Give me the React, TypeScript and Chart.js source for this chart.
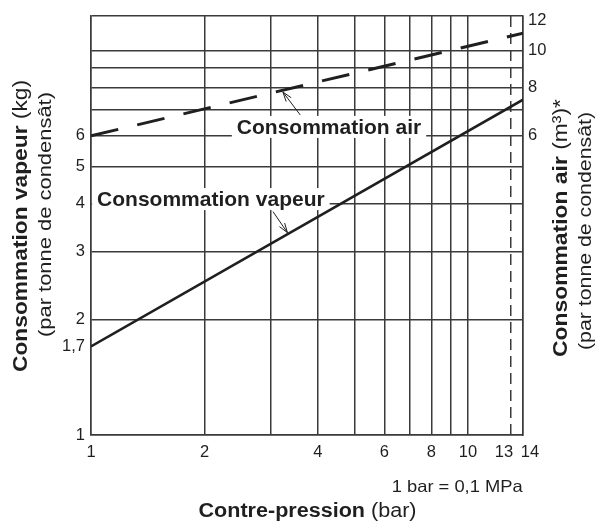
import { useEffect, useRef } from 'react';
import { Chart, registerables } from 'chart.js';

Chart.register(...registerables);

// Contre-pression (bar)
const pressure = [1, 14];
// Consommation vapeur, kg par tonne de condensât
const steam = [1.7, 7.45];
// Consommation air, m³ par tonne de condensât
const air = [6, 11.1];

const xTicks = [1, 2, 3, 4, 5, 6, 7, 8, 9, 10, 13, 14];
const xLabels = [1, 2, 4, 6, 8, 10, 13, 14];
const yTicks = [1, 1.7, 2, 3, 4, 5, 6, 7, 8, 9, 10, 12.3];
const yLabels = [1, 1.7, 2, 3, 4, 5, 6];
const y2Ticks = [6, 8, 10, 12];

const FONT = '"Liberation Sans", Arial, Helvetica, sans-serif';
const INK = '#1f1f1f';
const GRID = '#3a3a3a';

// callouts: label baseline anchor and arrow, in chart units
const callouts = [
    { text: 'Consommation air', x: 4.28, y: 6.07, from: [3.59, 6.8], to: [3.23, 7.8] },
    { text: 'Consommation vapeur', x: 2.08, y: 3.94, from: [3.04, 3.81], to: [3.32, 3.36] },
];

type Part = [string, string];

// draws mixed bold/normal text; len = span in px the text is fitted to
const drawRich = (ctx: CanvasRenderingContext2D, parts: Part[], x: number, y: number,
    align: 'center' | 'right', rotate: boolean, len?: number) => {
    ctx.save();
    ctx.translate(x, y);
    if (rotate) ctx.rotate(-Math.PI / 2);
    let total = 0;
    const widths = parts.map(([t, f]) => {
        ctx.font = f;
        const w = ctx.measureText(t).width;
        total += w;
        return w;
    });
    const k = len ? len / total : 1;
    ctx.scale(k, 1);
    let cx = align === 'center' ? -total / 2 : -total;
    ctx.textAlign = 'left';
    ctx.textBaseline = 'alphabetic';
    ctx.fillStyle = INK;
    parts.forEach(([t, f], i) => {
        ctx.font = f;
        ctx.fillText(t, cx, 0);
        cx += widths[i];
    });
    ctx.restore();
};

const arrow = (ctx: CanvasRenderingContext2D, x1: number, y1: number, x2: number, y2: number) => {
    const a = Math.atan2(y2 - y1, x2 - x1);
    const h = 10;
    const s = 0.32;
    ctx.save();
    ctx.strokeStyle = INK;
    ctx.lineWidth = 1;
    ctx.beginPath();
    ctx.moveTo(x1, y1);
    ctx.lineTo(x2, y2);
    ctx.moveTo(x2 - h * Math.cos(a - s), y2 - h * Math.sin(a - s));
    ctx.lineTo(x2, y2);
    ctx.lineTo(x2 - h * Math.cos(a + s), y2 - h * Math.sin(a + s));
    ctx.stroke();
    ctx.restore();
};

const labelFont = `bold 21px ${FONT}`;

const annotations = {
    id: 'annotations',
    beforeDatasetsDraw(chart: any) {
        const { ctx, scales } = chart;
        ctx.save();
        ctx.font = labelFont;
        ctx.fillStyle = '#fff';
        callouts.forEach((c) => {
            const px = scales.x.getPixelForValue(c.x);
            const py = scales.y.getPixelForValue(c.y);
            const w = ctx.measureText(c.text).width;
            ctx.fillRect(px - w / 2 - 5, py - 18, w + 10, 22);
        });
        ctx.restore();
    },
    afterDatasetsDraw(chart: any) {
        const { ctx, scales } = chart;
        callouts.forEach((c) => {
            const px = scales.x.getPixelForValue(c.x);
            const py = scales.y.getPixelForValue(c.y);
            drawRich(ctx, [[c.text, labelFont]], px, py, 'center', false);
            arrow(ctx,
                scales.x.getPixelForValue(c.from[0]), scales.y.getPixelForValue(c.from[1]),
                scales.x.getPixelForValue(c.to[0]), scales.y.getPixelForValue(c.to[1]));
        });
    },
    afterDraw(chart: any) {
        const { ctx } = chart;
        const b21 = `bold 21px ${FONT}`;
        const n21 = `21px ${FONT}`;
        const n18 = `18px ${FONT}`;
        drawRich(ctx, [['Consommation vapeur', b21], [' (kg)', n21]], 26.5, 226, 'center', true, 292);
        drawRich(ctx, [['(par tonne de condensât)', n18]], 50.5, 214.5, 'center', true, 245);
        drawRich(ctx, [['Consommation air', b21], [' (m³)*', n21]], 567, 228, 'center', true, 258);
        drawRich(ctx, [['(par tonne de condensât)', n18]], 591, 231, 'center', true, 238);
        drawRich(ctx, [['Contre-pression', `bold 19.5px ${FONT}`], [' (bar)', `19.5px ${FONT}`]], 307.5, 517, 'center', false, 218);
        drawRich(ctx, [['1 bar = 0,1 MPa', `16.5px ${FONT}`]], 522.7, 491.7, 'right', false, 131);
    },
};

const App = () => {
    const chartRef = useRef<HTMLCanvasElement | null>(null);
    const chartInstanceRef = useRef<Chart | null>(null);

    useEffect(() => {
        if (!chartRef.current) return;
        if (chartInstanceRef.current) chartInstanceRef.current.destroy();

        Chart.defaults.font.family = FONT;
        Chart.defaults.font.size = 16.5;
        Chart.defaults.color = INK;

        chartInstanceRef.current = new Chart(chartRef.current, {
            type: 'line',
            data: {
                datasets: [
                    {
                        label: 'Consommation vapeur',
                        data: pressure.map((p, i) => ({ x: p, y: steam[i] })),
                        yAxisID: 'y',
                        borderColor: INK,
                        borderWidth: 2.6,
                        pointRadius: 0,
                    },
                    {
                        label: 'Consommation air',
                        data: pressure.map((p, i) => ({ x: p, y: air[i] })),
                        yAxisID: 'y2',
                        borderColor: INK,
                        borderWidth: 3,
                        borderDash: [28, 19.5],
                        borderCapStyle: 'butt',
                        pointRadius: 0,
                    },
                ],
            },
            options: {
                animation: false,
                responsive: true,
                maintainAspectRatio: false,
                events: [],
                layout: { padding: { top: 16, left: 0, right: 0, bottom: 0 } },
                plugins: { legend: { display: false }, tooltip: { enabled: false } },
                scales: {
                    x: {
                        type: 'logarithmic',
                        min: 1,
                        max: 14,
                        afterBuildTicks: (s: any) => {
                            s.ticks = xTicks.map((v) => ({ value: v }));
                        },
                        afterFit: (s: any) => {
                            s.height = 87;
                        },
                        ticks: {
                            autoSkip: false,
                            maxRotation: 0,
                            padding: 8,
                            callback: (v: any) => {
                                if (!xLabels.includes(v)) return '';
                                if (v === 13) return '13   ';
                                if (v === 14) return '   14';
                                return String(v);
                            },
                        },
                        grid: { color: GRID, lineWidth: 1.5, drawTicks: false },
                        border: {
                            color: GRID,
                            width: 1.5,
                            dash: (c: any) => (c.tick && c.tick.value === 13 ? [11, 6] : []),
                        },
                    },
                    y: {
                        type: 'logarithmic',
                        position: 'left',
                        min: 1,
                        max: 12.3,
                        afterBuildTicks: (s: any) => {
                            s.ticks = yTicks.map((v) => ({ value: v }));
                        },
                        afterFit: (s: any) => {
                            s.width = 91;
                        },
                        ticks: {
                            padding: 6,
                            callback: (v: any) => (yLabels.includes(v) ? String(v).replace('.', ',') : ''),
                        },
                        grid: {
                            color: (c: any) => (c.tick && c.tick.value === 1.7 ? 'rgba(0,0,0,0)' : GRID),
                            lineWidth: 1.5,
                            drawTicks: false,
                        },
                        border: { color: GRID, width: 1.5 },
                    },
                    y2: {
                        type: 'logarithmic',
                        position: 'right',
                        min: 1,
                        max: 12.3,
                        afterBuildTicks: (s: any) => {
                            s.ticks = y2Ticks.map((v) => ({ value: v }));
                        },
                        afterFit: (s: any) => {
                            s.width = 79;
                        },
                        ticks: { padding: 5, callback: (v: any) => String(v) },
                        grid: { drawOnChartArea: false, drawTicks: false },
                        border: { color: GRID, width: 1.5 },
                    },
                },
            },
            plugins: [annotations],
        });

        return () => {
            if (chartInstanceRef.current) {
                chartInstanceRef.current.destroy();
                chartInstanceRef.current = null;
            }
        };
    }, []);

    return (
        <div style={{ position: 'fixed', left: 0, top: 0, width: 602, height: 522, background: '#fff' }}>
            <canvas ref={chartRef}></canvas>
        </div>
    );
};

export default App;
